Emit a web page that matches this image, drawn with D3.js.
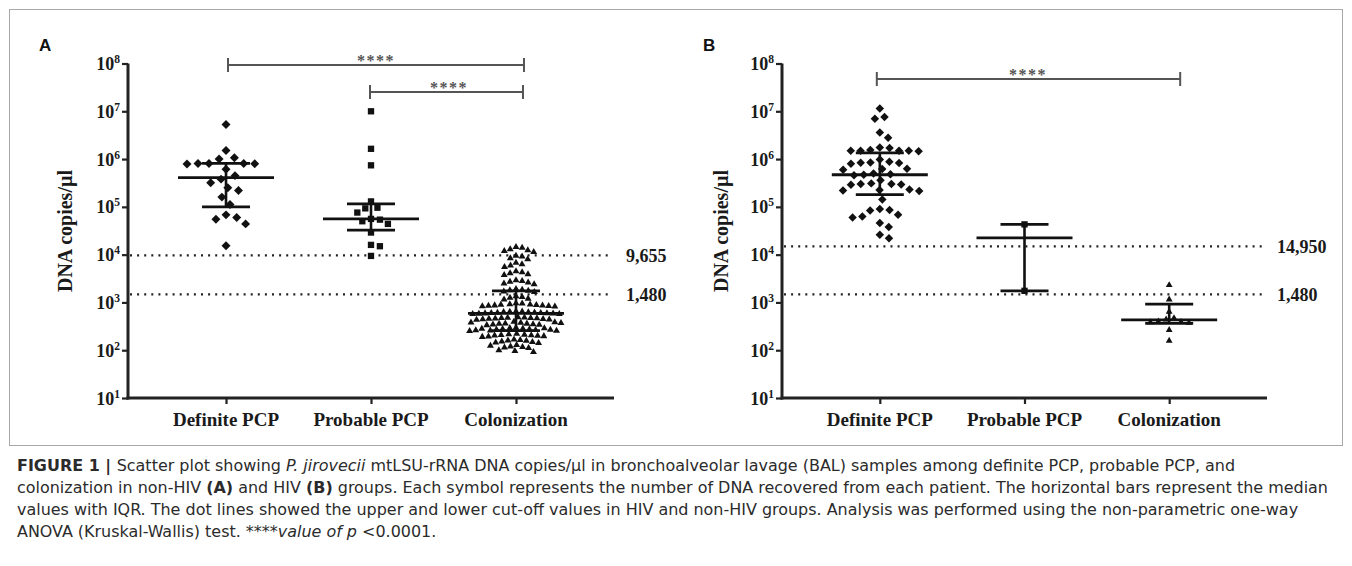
<!DOCTYPE html>
<html>
<head>
<meta charset="utf-8">
<script src="https://cdn.jsdelivr.net/npm/d3@7/dist/d3.min.js"></script>
<style>
  body { margin: 0; background: #fff; }
  svg { display: block; }
  .serif { font-family: "Liberation Serif", "Times New Roman", serif; font-weight: bold; fill: #1a1a1a; }
  .caption { font-family: "Liberation Sans Narrow", "DejaVu Sans Condensed", "Arial Narrow", sans-serif; font-size: 15px; fill: #2b2b2b; }
</style>
</head>
<body>
<script>
// categories + axis ticks
var categories = ["Definite PCP", "Probable PCP", "Colonization"];
var tickPowers = [1, 2, 3, 4, 5, 6, 7, 8];

// A: non-HIV, DNA copies/ul
var nonHivDefinite = [5.3e6, 1.51e6, 1.07e6, 1.0e6, 8.1e5, 8.1e5, 8.1e5, 8.0e5, 7.9e5, 6.1e5, 4.5e5,
    3.8e5, 3.2e5, 2.5e5, 2.2e5, 1.6e5, 1.12e5, 6.8e4, 6.0e4, 5.5e4, 4.4e4, 1.53e4];
var nonHivProbable = [1.0e7, 1.64e6, 7.4e5, 1.3e5, 9.6e4, 9.3e4, 7.6e4, 5.6e4, 5.4e4, 5.0e4, 4.4e4,
    2.9e4, 1.6e4, 1.5e4, 9.4e3];
var nonHivColonization = [14500, 14000, 13000, 12400, 11900, 11300, 9500, 9100, 8400, 8000,
    6800, 6300, 5900, 5500, 4500, 4300, 4100, 3900, 3750, 2900, 2800, 2700, 2600, 2500, 2400,
    1900, 1850, 1800, 1750, 1700, 1650, 1350, 1300, 1250, 1200, 1150,
    960, 945, 920, 905, 890, 880, 868, 860, 850, 838, 830, 818,
    650, 642, 635, 628, 620, 614, 610, 603, 600, 594, 590, 584, 578, 575, 570,
    490, 486, 480, 474, 470, 466, 460, 455, 451, 445, 440, 435,
    392, 385, 381, 375, 371, 364, 360, 356, 350, 346, 340, 335,
    296, 290, 287, 283, 280, 278, 274, 270, 268, 265, 262, 258, 256, 253,
    220, 216, 212, 208, 206, 203, 200, 197, 194, 190,
    168, 164, 160, 157, 152, 148, 145, 142,
    128, 124, 120, 117, 114, 111,
    100, 96, 92];
var nonHivMedian = [4.1e5, 5.6e4, 590];
var nonHivQ1 = [1.0e5, 3.27e4, 258];
var nonHivQ3 = [8.1e5, 1.15e5, 1750];
var nonHivCutoffs = [9655, 1480];
var nonHivCutoffLabels = ["9,655", "1,480"];

// B: HIV
var hivDefinite = [1.15e7, 7.6e6, 7.0e6, 3.6e6, 2.8e6, 1.75e6, 1.7e6, 1.55e6, 1.5e6, 1.5e6, 1.49e6, 1.5e6,
    1.45e6, 9.8e5, 8.8e5, 8.5e5, 8.4e5, 8.3e5, 8.0e5, 6.3e5, 6.2e5, 6.0e5, 5.0e5, 4.8e5, 4.6e5, 4.7e5,
    3.6e5, 3.1e5, 3.0e5, 3.0e5, 2.95e5, 2.9e5, 2.3e5, 2.25e5, 2.2e5, 2.15e5, 1.43e5, 9.0e4, 8.6e4,
    8.4e4, 6.8e4, 6.3e4, 6.0e4, 4.6e4, 3.8e4, 2.6e4, 2.2e4];
var hivProbable = [4.3e4, 1.75e3];
var hivColonization = [2300, 1150, 640, 470, 440, 400, 390, 385, 375, 265, 158];
var hivMedian = [4.7e5, 2.24e4, 430];
var hivQ1 = [1.8e5, 1.75e3, 365];
var hivQ3 = [1.35e6, 4.3e4, 920];
var hivCutoffs = [14950, 1480];
var hivCutoffLabels = ["14,950", "1,480"];

var captionLines = [
  [["FIGURE 1", "b"], [" | ", "b"], ["Scatter plot showing "], ["P. jirovecii", "i"],
   [" mtLSU-rRNA DNA copies/\u00b5l in bronchoalveolar lavage (BAL) samples among definite PCP, probable PCP, and"]],
  [["colonization in non-HIV "], ["(A)", "b"], [" and HIV "], ["(B)", "b"],
   [" groups. Each symbol represents the number of DNA recovered from each patient. The horizontal bars represent the median"]],
  [["values with IQR. The dot lines showed the upper and lower cut-off values in HIV and non-HIV groups. Analysis was performed using the non-parametric one-way"]],
  [["ANOVA (Kruskal-Wallis) test. "], ["****value of p", "i"], [" <0.0001."]]
];

var W = 1352, H = 566;
var svg = d3.select("body").append("svg").attr("width", W).attr("height", H);
svg.append("rect").attr("width", W).attr("height", H).attr("fill", "#fff");
svg.append("rect").attr("x", 9.5).attr("y", 9.5).attr("width", 1333).attr("height", 436)
  .attr("fill", "none").attr("stroke", "#a8a8a8").attr("stroke-width", 1);

// greedy beeswarm, sorted by y
function swarm(values, yScale, diam) {
  var pts = values.map(function (v) { return { v: v, y: yScale(v) }; })
    .sort(function (a, b) { return a.y - b.y; });
  var placed = [];
  pts.forEach(function (p) {
    var cands = [0];
    placed.forEach(function (q) {
      var dy = Math.abs(q.y - p.y);
      if (dy < diam) {
        var dx = Math.sqrt(diam * diam - dy * dy);
        cands.push(q.dx + dx, q.dx - dx);
      }
    });
    cands.sort(function (a, b) { return Math.abs(a) - Math.abs(b); });
    for (var i = 0; i < cands.length; i++) {
      var c = cands[i];
      var ok = placed.every(function (q) {
        return (q.dx - c) * (q.dx - c) + (q.y - p.y) * (q.y - p.y) >= diam * diam - 0.01;
      });
      if (ok) { p.dx = c; break; }
    }
    placed.push(p);
  });
  return placed;
}

function drawPanel(opt) {
  var g = svg.append("g");
  var x = d3.scalePoint().domain(categories).range([opt.x0, opt.x1]).padding(0.676);
  var y = d3.scaleLog().domain([10, 1e8]).range([398, 63.5]);

  g.append("text").attr("x", opt.letterX).attr("y", 51)
    .style("font-family", "'Liberation Sans', Arial, sans-serif").style("font-weight", "bold")
    .style("font-size", "17px").attr("fill", "#111").text(opt.letter);

  // cut-off dotted lines
  opt.cutoffs.forEach(function (c, i) {
    g.append("line").attr("x1", opt.x0 + 2).attr("x2", opt.x1 - 2)
      .attr("y1", y(c)).attr("y2", y(c))
      .attr("stroke", "#222").attr("stroke-width", 2.2).attr("stroke-dasharray", "2,5.1");
    g.append("text").attr("class", "serif").attr("x", opt.x1 + opt.labelGap).attr("y", y(c) + 6.5)
      .style("font-size", "18px").text(opt.cutoffLabels[i]);
  });

  // axes
  var yAxis = d3.axisLeft(y).tickValues(tickPowers.map(function (p) { return Math.pow(10, p); }))
    .tickSize(6).tickFormat("");
  var ya = g.append("g").attr("transform", "translate(" + opt.x0 + ",0)").call(yAxis);
  var xAxis = d3.axisBottom(x).tickSize(6).tickFormat("");
  var xa = g.append("g").attr("transform", "translate(0,398)").call(xAxis);
  [ya, xa].forEach(function (a) {
    a.select(".domain").attr("stroke", "#222").attr("stroke-width", 3);
    a.selectAll(".tick line").attr("stroke", "#222").attr("stroke-width", 2.2);
  });
  xa.select(".domain").attr("d", "M" + (opt.x0 - 1.5) + ",0H" + opt.x1);
  ya.select(".domain").attr("d", "M0,63.5V399.5");

  tickPowers.forEach(function (p) {
    var t = g.append("text").attr("class", "serif").attr("text-anchor", "end")
      .attr("x", opt.x0 - 8).attr("y", y(Math.pow(10, p)) + 6.5).style("font-size", "18px");
    t.append("tspan").text("10");
    t.append("tspan").attr("dy", -7).style("font-size", "11.5px").text(p);
  });

  g.selectAll(".xlab").data(categories).enter().append("text").attr("class", "serif")
    .attr("text-anchor", "middle").attr("x", function (d) { return x(d); }).attr("y", 426)
    .style("font-size", "19px").text(function (d) { return d; });

  g.append("text").attr("class", "serif").attr("text-anchor", "middle")
    .attr("transform", "translate(" + opt.titleX + ",231) rotate(-90)")
    .style("font-size", "20px").text("DNA copies/\u00b5l");

  // scatter
  var shapes = [
    d3.symbol().type(d3.symbolSquare).size(opt.diamondSize),
    d3.symbol().type(d3.symbolSquare).size(40),
    d3.symbol().type(d3.symbolTriangle).size(opt.triSize)
  ];
  opt.groups.forEach(function (vals, i) {
    var pts = swarm(vals, y, opt.diam[i]);
    g.selectAll(".pt" + i).data(pts).enter().append("path")
      .attr("d", shapes[i])
      .attr("fill", "#111")
      .attr("transform", function (d) {
        return "translate(" + (x(categories[i]) + d.dx) + "," + d.y + ")" + (i === 0 ? " rotate(45)" : "");
      });
  });

  // median + IQR bars
  categories.forEach(function (c, i) {
    var cx = x(c);
    g.append("line").attr("x1", cx).attr("x2", cx).attr("y1", y(opt.q1[i])).attr("y2", y(opt.q3[i]))
      .attr("stroke", "#111").attr("stroke-width", 2.6);
    [opt.q1[i], opt.q3[i]].forEach(function (q) {
      g.append("line").attr("x1", cx - 24).attr("x2", cx + 24).attr("y1", y(q)).attr("y2", y(q))
        .attr("stroke", "#111").attr("stroke-width", 2.8);
    });
    g.append("line").attr("x1", cx - 48).attr("x2", cx + 48).attr("y1", y(opt.median[i])).attr("y2", y(opt.median[i]))
      .attr("stroke", "#111").attr("stroke-width", 2.8);
  });

  // significance brackets
  opt.brackets.forEach(function (b) {
    var xa1 = x(categories[b.from]) + b.off[0], xb1 = x(categories[b.to]) + b.off[1];
    g.append("path").attr("d", "M" + xa1 + "," + (b.y - 7) + "V" + (b.y + 7) + "M" + xa1 + "," + b.y +
      "H" + xb1 + "M" + xb1 + "," + (b.y - 7) + "V" + (b.y + 7))
      .attr("fill", "none").attr("stroke", "#555").attr("stroke-width", 2);
    g.append("text").attr("class", "serif").attr("text-anchor", "middle")
      .attr("x", b.sx).attr("y", b.y + 0.5).style("font-size", "16px").style("letter-spacing", "1.5px")
      .style("fill", "#555").text("****");
  });
}

drawPanel({
  letter: "A", letterX: 39, x0: 128, x1: 614, titleX: 72, labelGap: 12,
  groups: [nonHivDefinite, nonHivProbable, nonHivColonization],
  diam: [11, 9, 6.2], diamondSize: 40, triSize: 21,
  median: nonHivMedian, q1: nonHivQ1, q3: nonHivQ3,
  cutoffs: nonHivCutoffs, cutoffLabels: nonHivCutoffLabels,
  brackets: [{ from: 0, to: 2, y: 65, off: [2, 8], sx: 376 }, { from: 1, to: 2, y: 92, off: [-1, 7], sx: 449 }]
});
drawPanel({
  letter: "B", letterX: 703, x0: 782, x1: 1267, titleX: 728, labelGap: 10,
  groups: [hivDefinite, hivProbable, hivColonization],
  diam: [9.8, 9, 8], diamondSize: 36, triSize: 20,
  median: hivMedian, q1: hivQ1, q3: hivQ3,
  cutoffs: hivCutoffs, cutoffLabels: hivCutoffLabels,
  brackets: [{ from: 0, to: 2, y: 79, off: [-3, 11], sx: 1028 }]
});

// caption
var cap = svg.append("g");
var capY = [471, 493, 515, 537];
var capNodes = captionLines.map(function (line, i) {
  var t = cap.append("text").attr("class", "caption").attr("x", 17).attr("y", capY[i]);
  line.forEach(function (seg) {
    var s = t.append("tspan").text(seg[0]);
    if (seg[1] === "b") s.style("font-weight", "bold");
    if (seg[1] === "i") s.style("font-style", "italic");
  });
  return t;
});
var natural = capNodes.map(function (t) { return t.node().getComputedTextLength(); });
var f = 1311 / natural[1];
capNodes.forEach(function (t, i) {
  t.attr("textLength", natural[i] * f).attr("lengthAdjust", "spacingAndGlyphs");
});
</script>
</body>
</html>
